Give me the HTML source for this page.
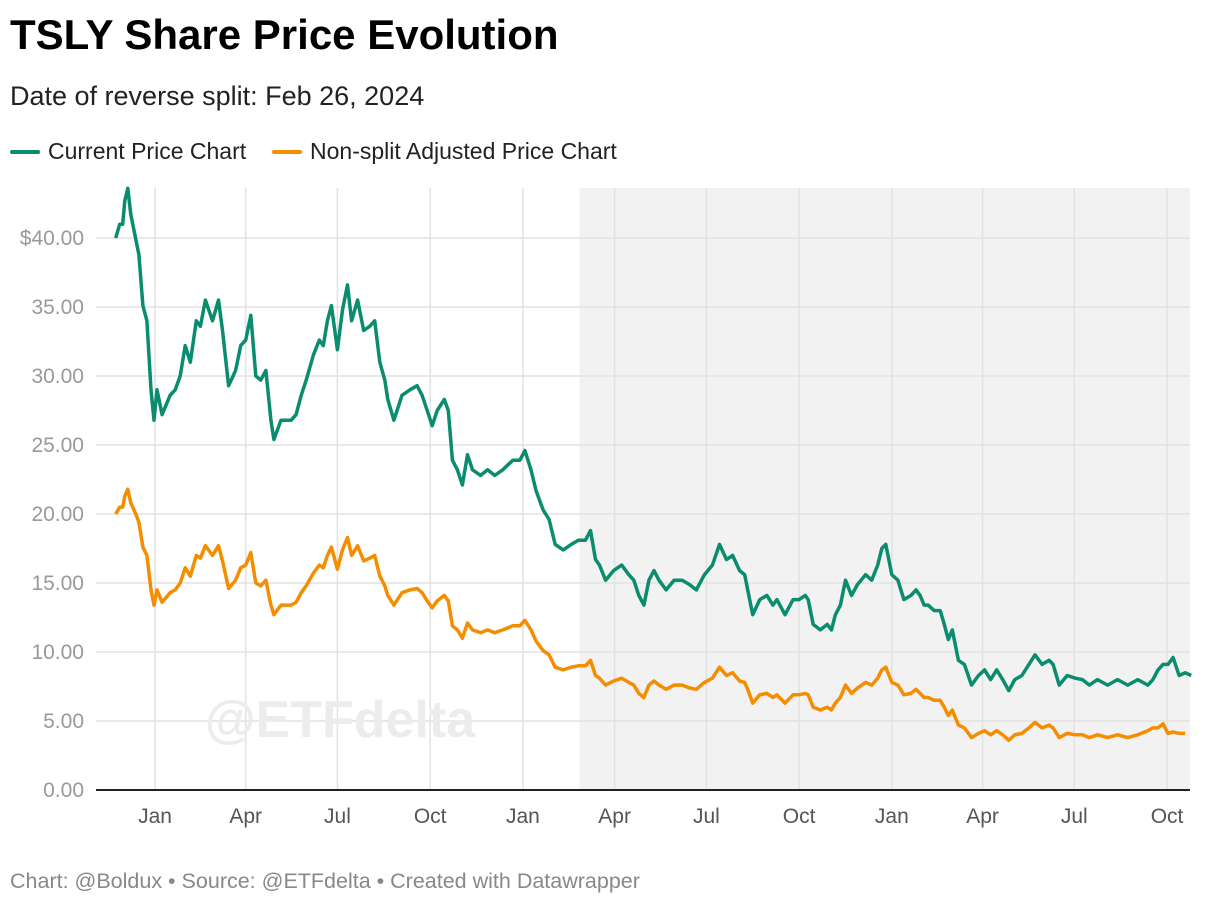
<!DOCTYPE html>
<html><head><meta charset="utf-8"><style>
body{margin:0;background:#fff;width:1220px;height:906px;overflow:hidden;font-family:"Liberation Sans",sans-serif;}
#title{position:absolute;left:10px;top:11px;font-size:42px;font-weight:bold;color:#000}
#sub{position:absolute;left:10px;top:81px;font-size:27px;color:#222}
.leg{position:absolute;top:138px;font-size:23px;color:#222;display:flex;align-items:center}
.sw{display:inline-block;width:30px;height:4px;border-radius:2px;margin-right:8px}
#foot{position:absolute;left:10px;top:869px;font-size:21.5px;color:#888}
svg{position:absolute;left:0;top:0}
</style></head><body>
<div id="title">TSLY Share Price Evolution</div>
<div id="sub">Date of reverse split: Feb 26, 2024</div>
<div class="leg" style="left:10px"><span class="sw" style="background:#0a8c6e"></span>Current Price Chart</div>
<div class="leg" style="left:272px"><span class="sw" style="background:#f48d00"></span>Non-split Adjusted Price Chart</div>
<svg id="chart" width="1220" height="906"></svg>
<div id="foot">Chart: @Boldux • Source: @ETFdelta • Created with Datawrapper</div>
<script>
// days relative to 2023-01-01
const days=[-39,-35,-32,-30,-27,-24,-19,-16,-12,-8,-4,-1,2,7,15,20,25,30,35,41,45,50,57,63,67,73,80,85,90,95,100,105,110,115,118,125,135,140,145,150,157,163,167,171,175,181,186,191,195,201,207,213,218,223,228,231,237,245,253,260,265,270,275,280,287,291,295,300,305,310,315,323,330,337,345,355,362,367,373,378,385,391,397,405,413,420,427,432,437,441,447,455,463,470,475,480,485,490,495,500,507,515,523,530,537,545,553,560,567,573,580,585,588,593,600,607,613,617,625,633,639,645,648,653,660,667,671,675,680,685,691,697,705,711,717,721,725,731,737,743,750,755,759,763,767,773,779,783,787,791,797,803,810,817,823,829,835,841,847,853,860,867,873,880,887,891,897,905,913,920,927,935,945,955,965,975,985,990,995,1000,1005,1010,1016,1022,1028];
const currentPrice=[40.0,41,41,42.7,43.6,41.7,39.9,38.8,35.1,34,29,26.8,29,27.2,28.6,29,30,32.2,31,34,33.6,35.5,34,35.5,33.3,29.3,30.4,32.2,32.6,34.4,30,29.7,30.4,26.8,25.4,26.8,26.8,27.2,28.6,29.7,31.5,32.6,32.2,34,35.1,31.9,34.8,36.6,34,35.5,33.3,33.6,34,31,29.7,28.3,26.8,28.6,29,29.3,28.6,27.5,26.4,27.5,28.3,27.5,23.9,23.2,22.1,24.3,23.2,22.8,23.2,22.8,23.2,23.9,23.9,24.6,23.2,21.7,20.3,19.6,17.8,17.4,17.8,18.1,18.1,18.8,16.7,16.3,15.2,15.9,16.3,15.6,15.2,14.1,13.4,15.2,15.9,15.2,14.5,15.2,15.2,14.9,14.5,15.6,16.3,17.8,16.7,17,15.9,15.6,14.5,12.7,13.8,14.1,13.4,13.8,12.7,13.8,13.8,14.1,13.8,12,11.6,12,11.6,12.7,13.4,15.2,14.1,14.9,15.6,15.2,16.3,17.5,17.8,15.6,15.2,13.8,14.1,14.5,14.1,13.4,13.4,13,13,12,10.9,11.6,9.4,9.1,7.6,8.3,8.7,8,8.7,8,7.2,8,8.3,9.1,9.8,9.1,9.4,9.1,7.6,8.3,8.1,8,7.6,8,7.6,8,7.6,8,7.6,8,8.7,9.1,9.1,9.6,8.3,8.5,8.3,8.3];
const nonSplitPrice=[20.0,20.5,20.5,21.3,21.8,20.8,20.0,19.4,17.6,17,14.5,13.4,14.5,13.6,14.3,14.5,15,16.1,15.5,17,16.8,17.7,17,17.7,16.6,14.6,15.2,16.1,16.3,17.2,15,14.8,15.2,13.4,12.7,13.4,13.4,13.6,14.3,14.8,15.7,16.3,16.1,17,17.6,16,17.4,18.3,17,17.7,16.6,16.8,17,15.5,14.8,14.1,13.4,14.3,14.5,14.6,14.3,13.7,13.2,13.7,14.1,13.7,11.9,11.6,11,12.1,11.6,11.4,11.6,11.4,11.6,11.9,11.9,12.3,11.6,10.8,10.1,9.8,8.9,8.7,8.9,9,9,9.4,8.3,8.1,7.6,7.9,8.1,7.8,7.6,7,6.7,7.6,7.9,7.6,7.3,7.6,7.6,7.4,7.3,7.8,8.1,8.9,8.3,8.5,7.9,7.8,7.3,6.3,6.9,7,6.7,6.9,6.3,6.9,6.9,7,6.9,6,5.8,6,5.8,6.3,6.7,7.6,7,7.4,7.8,7.6,8.1,8.7,8.9,7.8,7.6,6.9,7,7.3,7,6.7,6.7,6.5,6.5,6,5.4,5.8,4.7,4.5,3.8,4.1,4.3,4,4.3,4,3.6,4,4.1,4.5,4.9,4.5,4.7,4.5,3.8,4.1,4,4,3.8,4,3.8,4,3.8,4,4.3,4.5,4.5,4.8,4.1,4.2,4.1,4.1];
const yTicks=[0,5,10,15,20,25,30,35,40];
const yTickLabels=["0.00","5.00","10.00","15.00","20.00","25.00","30.00","35.00","$40.00"];
const xTicks=[0,90,181,273,365,456,547,639,731,821,912,1004];
const xTickLabels=["Jan","Apr","Jul","Oct","Jan","Apr","Jul","Oct","Jan","Apr","Jul","Oct"];
const splitDay=421;

const NS="http://www.w3.org/2000/svg";
const svg=document.getElementById('chart');
const X=d=>155+d*1.008;
const Y=v=>790-v*13.8;
const L=96,R=1190,T=188;
function mk(t,a){const e=document.createElementNS(NS,t);for(const k in a)e.setAttribute(k,a[k]);svg.appendChild(e);return e;}
let sh=mk('rect',{x:X(splitDay),y:T,width:R-X(splitDay),height:790-T,fill:'#f2f2f2'});


yTicks.forEach((v,i)=>{
  let g=mk('line',{x1:L,x2:R,y1:Y(v),y2:Y(v),stroke:'#e2e2e2','stroke-width':1.5});
  
  
  let t=mk('text',{x:84,y:Y(v)+7,'text-anchor':'end','font-size':21,fill:'#999','font-family':'Liberation Sans, sans-serif'});
  t.textContent=yTickLabels[i];
  
  
});
xTicks.forEach((d,i)=>{
  let g=mk('line',{x1:X(d),x2:X(d),y1:T,y2:790,stroke:'#e2e2e2','stroke-width':1.5});
  
  
  let t=mk('text',{x:X(d),y:823,'text-anchor':'middle','font-size':21,fill:'#555','font-family':'Liberation Sans, sans-serif'});
  t.textContent=xTickLabels[i];
  
  
});
let wm=mk('text',{x:340,y:737,'text-anchor':'middle','font-size':52,'font-weight':'bold',fill:'#ececec','font-family':'Liberation Sans, sans-serif'});
wm.textContent='@ETFdelta';


let ax=mk('line',{x1:L,x2:R,y1:790,y2:790,stroke:'#222','stroke-width':2});


function line(vals,color,name){
  const d=days.map((x,i)=>(i?'L':'M')+X(x).toFixed(1)+','+Y(vals[i]).toFixed(1)).join('');
  let p=mk('path',{d:d,fill:'none',stroke:color,'stroke-width':3.5,'stroke-linejoin':'round'});
  
  
}
line(nonSplitPrice,'#f48d00','nonsplit-price-line');
line(currentPrice,'#0a8c6e','current-price-line');
</script>
</body></html>
